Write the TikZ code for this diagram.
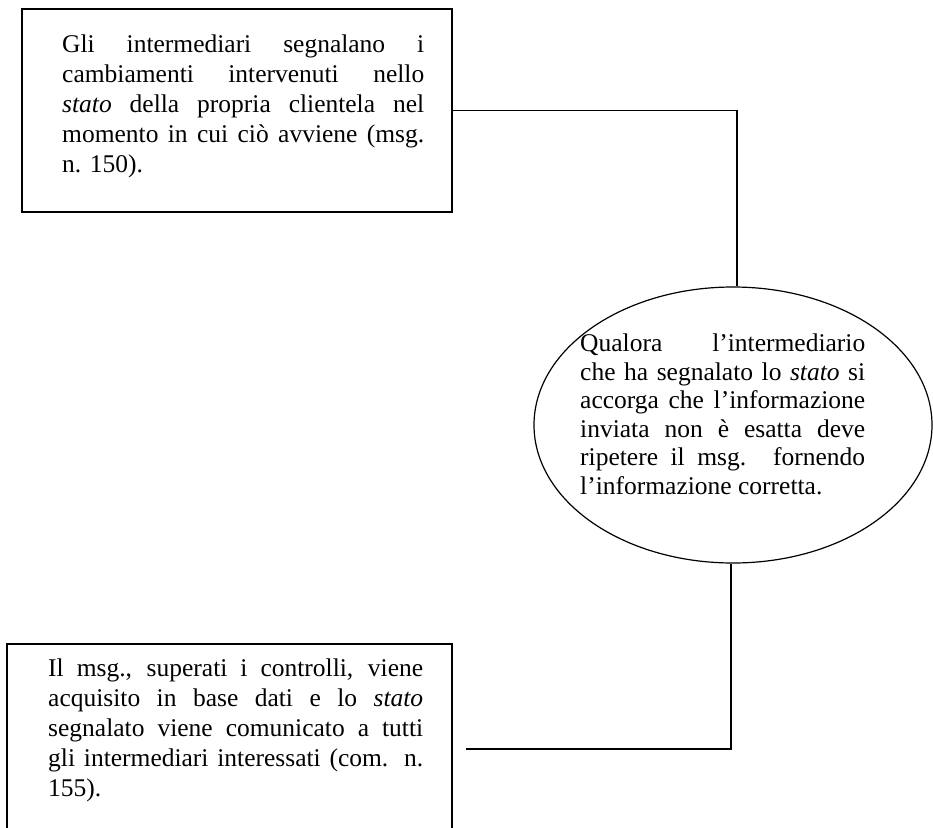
\documentclass[tikz,border=0pt]{standalone}
\usepackage{fontspec}
\setmainfont{Liberation Serif}
\usetikzlibrary{shapes.geometric}
\newcommand\jline[2]{\makebox[#1][s]{#2}\\}
\begin{document}
\begin{tikzpicture}[x=1pt,y=-1pt,
  boxshape/.style={draw, line width=1.6pt, rectangle, inner sep=0pt},
  ellshape/.style={draw, line width=1.2pt, ellipse, inner sep=0pt},
  txt/.style={inner sep=0pt, align=left, font=\fontsize{25.5}{30}\selectfont},
  elltxt/.style={inner sep=0pt, align=left, font=\fontsize{25.5}{28.5}\selectfont},
  conn/.style={draw, line width=1.1pt}]
\useasboundingbox (0,0) rectangle (933,827);
\clip (0,0) rectangle (933,827);
% top box
\node[boxshape, minimum width=430pt, minimum height=203pt] (top) at (237,110.5) {};
\node[txt, anchor=north west] (toptext) at (62,35) {%
\jline{362pt}{Gli intermediari segnalano i}%
\jline{362pt}{cambiamenti intervenuti nello}%
\jline{362pt}{\textit{stato} della propria clientela nel}%
\jline{362pt}{momento in cui ciò avviene (msg.}%
n. 150).};
% ellipse
\node[ellshape, minimum width=398pt, minimum height=276pt] (ell) at (733,425) {};
\node[elltxt, anchor=north west] (elltext) at (580,334) {%
\jline{285pt}{Qualora l’intermediario}%
\jline{285pt}{che ha segnalato lo \textit{stato} si}%
\jline{285pt}{accorga che l’informazione}%
\jline{285pt}{inviata non è esatta deve}%
\jline{285pt}{ripetere il msg. fornendo}%
l’informazione corretta.};
% bottom box
\node[boxshape, minimum width=445pt, minimum height=210pt] (bot) at (229.5,749) {};
\node[txt, anchor=north west] (bottext) at (48,659) {%
\jline{375pt}{Il msg., superati i controlli, viene}%
\jline{375pt}{acquisito in base dati e lo \textit{stato}}%
\jline{375pt}{segnalato viene comunicato a tutti}%
\jline{375pt}{gli intermediari interessati (com. n.}%
155).};
% connectors
\draw[conn] (top.east) -| ([xshift=4pt]ell.north);
\draw[conn] ([xshift=13pt]bot.east) -| ([xshift=-2pt]ell.south);
\end{tikzpicture}
\end{document}
